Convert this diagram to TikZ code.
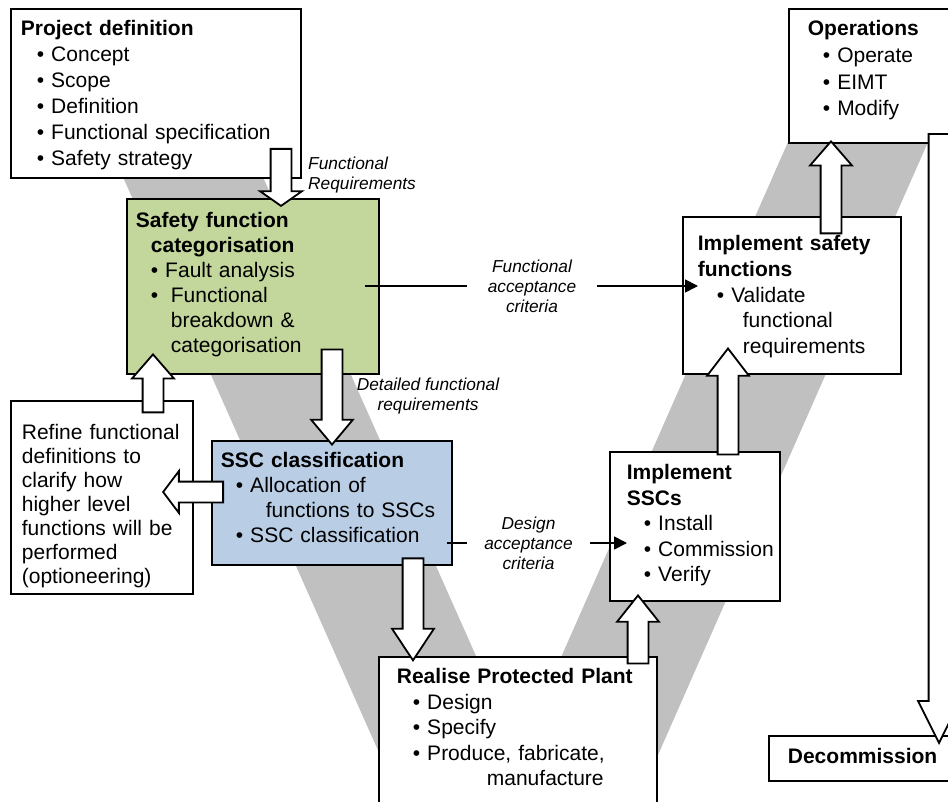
\documentclass[tikz,border=0pt]{standalone}
\usepackage{fontspec}
\setmainfont{Liberation Sans}
\usepackage{tikz}
\usetikzlibrary{arrows.meta, calc, positioning, shapes.arrows}

\definecolor{sfcgreen}{RGB}{195,214,155}
\definecolor{sscblue}{RGB}{185,205,229}
\definecolor{vgrey}{RGB}{192,192,192}

\newcommand{\stageitem}[1]{\hspace*{#1}\textbullet~}
\hyphenpenalty=10000
\exhyphenpenalty=10000

\begin{document}
\begin{tikzpicture}[x=1pt, y=-1pt,
  stagebox/.style={draw, line width=1.8pt, fill=white, anchor=north west,
    inner ysep=0pt, align=left, font=\fontsize{21}{25.5}\selectfont},
  flowarrow/.style={single arrow, draw, line width=1.8pt, fill=white,
    inner xsep=0pt, inner ysep=9.5pt, single arrow head extend=10.5pt,
    anchor=tip},
  flowlabel/.style={font=\fontsize{17.3}{20}\selectfont\itshape,
    inner sep=0pt, align=center},
  thinline/.style={line width=1.8pt}
]
\useasboundingbox (0,0) rectangle (948,802);
\clip (0,0) rectangle (948,802);

% V band
\fill[vgrey] (88.7,100) -- (228.7,100) -- (541,802) -- (401,802) -- cycle;
\fill[vgrey] (806.5,100) -- (946.5,100) -- (637.3,802) -- (497.3,802) -- cycle;

% stages
\node[stagebox, inner xsep=10pt, text width=270pt, text height=27pt, text depth=142pt,
  font=\fontsize{21}{26}\selectfont] (proj) at (10,8)
  {\textbf{Project definition}\\
   \stageitem{16pt}Concept\\
   \stageitem{16pt}Scope\\
   \stageitem{16pt}Definition\\
   \stageitem{16pt}Functional specification\\
   \stageitem{16pt}Safety strategy};

\node[stagebox, fill=sfcgreen, inner xsep=9pt, text width=234pt, text height=29pt, text depth=146pt,
  font=\fontsize{21}{25}\selectfont] (sfc) at (126,198)
  {\textbf{Safety function}\\
   \hspace*{15pt}\textbf{categorisation}\\
   \stageitem{15pt}Fault analysis\\
   \hspace*{15pt}\textbullet\hspace*{12.6pt}Functional\\
   \hspace*{35pt}breakdown \&\\
   \hspace*{35pt}categorisation};

\node[stagebox, fill=sscblue, inner xsep=9pt, text width=222pt, text height=27pt, text depth=97pt,
  font=\fontsize{21}{25}\selectfont] (ssc) at (211,440)
  {\textbf{SSC classification}\\
   \stageitem{15pt}Allocation of\\
   \hspace*{45pt}functions to SSCs\\
   \stageitem{15pt}SSC classification};

\node[stagebox, inner xsep=11pt, text width=160pt, text height=39pt, text depth=154pt,
  font=\fontsize{21}{24}\selectfont] (refine) at (10,400)
  {Refine functional\\
   definitions to\\
   clarify how\\
   higher level\\
   functions will be\\
   performed\\
   (optioneering)};

\node[stagebox, inner xsep=18pt, text width=242pt, text height=27pt, text depth=133pt] (realise) at (378,656)
  {\textbf{Realise Protected Plant}\\
   \stageitem{16pt}Design\\
   \stageitem{16pt}Specify\\
   \stageitem{16pt}Produce, fabricate,\\
   \hspace*{90pt}manufacture};

\node[stagebox, inner xsep=17pt, text width=136pt, text height=28pt, text depth=121pt] (implssc) at (609,451)
  {\textbf{Implement}\\
   \textbf{SSCs}\\
   \stageitem{17pt}Install\\
   \stageitem{17pt}Commission\\
   \stageitem{17pt}Verify};

\node[stagebox, inner xsep=15pt, text width=188pt, text height=34pt, text depth=123pt,
  font=\fontsize{21}{25.7}\selectfont] (implsf) at (682,216)
  {\textbf{Implement safety}\\
   \textbf{functions}\\
   \stageitem{19pt}Validate\\
   \hspace*{45pt}functional\\
   \hspace*{45pt}requirements};

\node[stagebox, inner xsep=19pt, text width=142pt, text height=27pt, text depth=107pt,
  font=\fontsize{21}{26.7}\selectfont] (ops) at (788,8)
  {\textbf{Operations}\\
   \stageitem{15pt}Operate\\
   \stageitem{15pt}EIMT\\
   \stageitem{15pt}Modify};

\node[stagebox, inner xsep=19pt, text width=162pt, text height=28pt, text depth=17pt] (decom) at (768,735)
  {\textbf{Decommission}};

% block arrows (tip positions)
\node[flowarrow, rotate=-90, minimum height=57pt, single arrow tip angle=110] (req) at (281,207) {};
\node[flowarrow, rotate=-90, minimum height=95pt, single arrow tip angle=80] (detail) at (332,446) {};
\node[flowarrow, rotate=180, minimum height=60pt, single arrow tip angle=106] (refineback) at (162,492) {};
\node[flowarrow, rotate=90, minimum height=58pt, single arrow tip angle=82] (refineup) at (153,353) {};
\node[flowarrow, rotate=-90, minimum height=102pt, single arrow tip angle=67] (realisedown) at (413,662) {};
\node[flowarrow, rotate=90, minimum height=68pt, single arrow tip angle=77] (installup) at (638,594) {};
\node[flowarrow, rotate=90, minimum height=106pt, single arrow tip angle=75] (validateup) at (728,347) {};
\node[flowarrow, rotate=90, minimum height=92pt, single arrow tip angle=82] (operateup) at (831,140) {};
\node[flowarrow, rotate=-90, minimum height=609pt, single arrow tip angle=53] (decomdown) at (939,745) {};

% labels
\node[flowlabel, align=left, anchor=west] (freq) at (308,175) {Functional\\Requirements};
\node[flowlabel] (dfr) at (428,396) {Detailed functional\\requirements};
\node[flowlabel, minimum width=130pt] (fac) at (532,286) {Functional\\acceptance\\criteria};
\node[flowlabel, minimum width=123pt] (dac) at (528.5,543) {Design\\acceptance\\criteria};

% acceptance criteria
\draw[thinline] ($(fac.west -| sfc.east)+(-15,0)$) -- (fac.west);
\draw[thinline, -{Triangle[length=13pt, width=13pt]}] (fac.east) -- ($(fac.east -| implsf.west)+(16,0)$);
\draw[thinline] ($(dac.west -| ssc.east)+(-6,0)$) -- (dac.west);
\draw[thinline, -{Triangle[length=13pt, width=13pt]}] (dac.east) -- ($(dac.east -| implssc.west)+(18,0)$);

\end{tikzpicture}
\end{document}
